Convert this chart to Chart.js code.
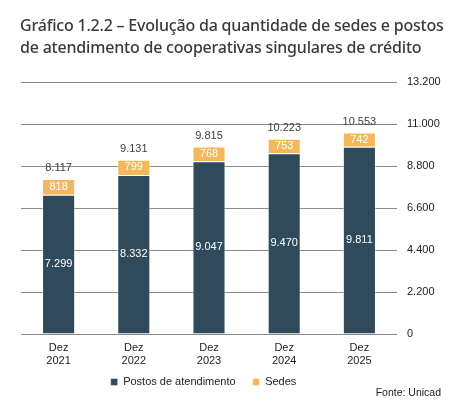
<!DOCTYPE html>
<html>
<head>
<meta charset="utf-8">
<script src="https://cdn.jsdelivr.net/npm/chart.js@4.4.1/dist/chart.umd.min.js"></script>
<style>
  html, body { margin: 0; padding: 0; background: #fff; }
  #wrap { position: relative; width: 452px; height: 410px; overflow: hidden; }
  #title { position: absolute; left: 20px; top: 14px; font-family: "Noto Sans", sans-serif; font-weight: 500;
           font-size: 16px; line-height: 22px; color: #3a3a3a; white-space: nowrap; letter-spacing: -0.2px; }
  #src { position: absolute; right: 11px; top: 386px; font-family: "Liberation Sans", Arial, sans-serif;
         font-size: 10.5px; color: #222; }
  canvas { position: absolute; left: 0; top: 0; }
</style>
</head>
<body>
<div id="wrap">
  <canvas id="c" width="452" height="410"></canvas>
  <div id="title">Gráfico 1.2.2 – Evolução da quantidade de sedes e postos<br>de atendimento de cooperativas singulares de crédito</div>
  <div id="src">Fonte: Unicad</div>
</div>
<script>
const categories = [["Dez","2021"],["Dez","2022"],["Dez","2023"],["Dez","2024"],["Dez","2025"]];
const postos = [7299, 8332, 9047, 9470, 9811];
const sedes = [818, 799, 768, 753, 742];
const seriesNames = ["Postos de atendimento", "Sedes"];
const yTicks = [0, 2200, 4400, 6600, 8800, 11000, 13200];

function fmt(n) {
  return String(Math.round(n)).replace(/\B(?=(\d{3})+(?!\d))/g, ".");
}

const labelPlugin = {
  id: 'barLabels',
  afterLayout(chart) {
    const lg = chart.legend;
    if (lg) {
      const h = lg.bottom - lg.top;
      lg.left = 0; lg.right = 407;
      lg.top = 382 - 17 - 5.5; lg.bottom = lg.top + h;
    }
  },
  afterDatasetsDraw(chart) {
    const ctx = chart.ctx;
    ctx.save();
    ctx.font = '11px "Liberation Sans", Arial, sans-serif';
    ctx.textAlign = 'center';
    ctx.textBaseline = 'middle';
    chart.data.datasets.forEach((ds, di) => {
      const meta = chart.getDatasetMeta(di);
      meta.data.forEach((bar, i) => {
        ctx.fillStyle = '#ffffff';
        ctx.fillText(fmt(ds.data[i]), bar.x, (bar.y + bar.base) / 2);
      });
    });
    const last = chart.getDatasetMeta(chart.data.datasets.length - 1);
    last.data.forEach((bar, i) => {
      ctx.fillStyle = '#404040';
      ctx.fillText(fmt(postos[i] + sedes[i]), bar.x, bar.y - 11);
    });
    ctx.restore();
  }
};

new Chart(document.getElementById('c'), {
  type: 'bar',
  data: {
    labels: categories,
    datasets: [
      { label: seriesNames[0], data: postos, backgroundColor: '#2f4b5b', borderColor: 'rgba(255,255,255,0.45)', borderWidth: 1 },
      { label: seriesNames[1], data: sedes, backgroundColor: '#f4b75b', borderColor: 'rgba(255,255,255,0.45)', borderWidth: 1 }
    ]
  },
  options: {
    responsive: false,
    animation: false,
    layout: { padding: { left: 21, right: 0, top: 82, bottom: 8 } },
    datasets: { bar: { categoryPercentage: 1, barPercentage: 0.44 } },
    plugins: {
      title: { display: false },
      tooltip: { enabled: false },
      legend: {
        display: true,
        position: 'bottom',
        labels: {
          boxWidth: 7, boxHeight: 7, padding: 17, color: '#222',
          font: { family: '"Liberation Sans", Arial, sans-serif', size: 11 }
        }
      }
    },
    scales: {
      x: {
        stacked: true,
        grid: { display: false, drawTicks: false },
        border: { display: false },
        ticks: { color: '#222', padding: 7, font: { family: '"Liberation Sans", Arial, sans-serif', size: 11, lineHeight: 1.2 } },
        afterFit(s) { s.height = 30; }
      },
      y: {
        stacked: true,
        position: 'right',
        min: 0, max: 13200,
        afterBuildTicks(s) { s.ticks = yTicks.map(v => ({ value: v })); },
        grid: { color: '#8a8a8a', lineWidth: 1, drawTicks: false },
        border: { display: false },
        ticks: { color: '#222', padding: 10, callback: v => fmt(v),
                 font: { family: '"Liberation Sans", Arial, sans-serif', size: 11 } },
        afterFit(s) { s.width = 55; }
      }
    }
  },
  plugins: [labelPlugin]
});
</script>
</body>
</html>
